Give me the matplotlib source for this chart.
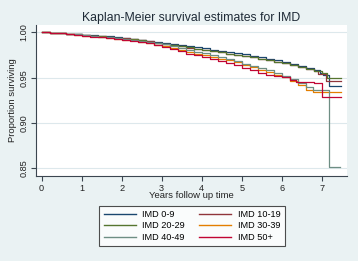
#!/usr/bin/env python3
# Kaplan-Meier survival estimates by IMD group (Stata s2color look)
import matplotlib
matplotlib.use("Agg")
import matplotlib.pyplot as plt

groups = ["IMD 0-9", "IMD 10-19", "IMD 20-29", "IMD 30-39", "IMD 40-49", "IMD 50+"]
colors = ["#1a476f", "#90353b", "#55752f", "#e37e00", "#6e8e84", "#c10534"]

# common follow-up grid (years) for the first six years
t_grid = [0.0, 0.2, 0.4, 0.6, 0.8, 1.0, 1.2, 1.4, 1.6, 1.8, 2.0, 2.2, 2.4, 2.6, 2.8,
          3.0, 3.2, 3.4, 3.6, 3.8, 4.0, 4.2, 4.4, 4.6, 4.8, 5.0, 5.2, 5.4, 5.6, 5.8, 6.0]

s_0_9 = [1.0, 0.9996, 0.9991, 0.9986, 0.998, 0.9974, 0.9967, 0.9961, 0.9954, 0.9946,
         0.9938, 0.993, 0.9918, 0.9907, 0.9895, 0.9885, 0.9873, 0.9858, 0.9845, 0.9834,
         0.9822, 0.981, 0.9797, 0.9785, 0.9772, 0.9759, 0.9743, 0.9726, 0.9709, 0.9692,
         0.9675]
tail_t_0_9 = [6.2, 6.4, 6.6, 6.8, 6.95, 7.04, 7.17, 7.48]
tail_s_0_9 = [0.9655, 0.9628, 0.9605, 0.9585, 0.9555, 0.953, 0.941, 0.941]

s_10_19 = [1.0, 0.9995, 0.999, 0.9984, 0.9978, 0.9971, 0.9964, 0.9957, 0.9949, 0.9941,
           0.9932, 0.9923, 0.9912, 0.99, 0.9887, 0.9873, 0.9859, 0.9845, 0.9831, 0.9818,
           0.9805, 0.9792, 0.9778, 0.9765, 0.9752, 0.9739, 0.9725, 0.971, 0.9694, 0.9678,
           0.9661]
tail_t_10_19 = [6.2, 6.4, 6.6, 6.8, 6.9, 7.1, 7.48]
tail_s_10_19 = [0.9642, 0.9615, 0.9594, 0.957, 0.9537, 0.9467, 0.9467]

s_20_29 = [1.0, 0.9996, 0.999, 0.9983, 0.9977, 0.997, 0.9963, 0.9955, 0.9948, 0.994,
           0.9931, 0.9921, 0.991, 0.9898, 0.9886, 0.9873, 0.986, 0.9847, 0.9834, 0.982,
           0.9807, 0.9794, 0.978, 0.9766, 0.9752, 0.9738, 0.9724, 0.9709, 0.9693, 0.9676,
           0.9659]
tail_t_20_29 = [6.2, 6.4, 6.6, 6.8, 7.0, 7.13, 7.48]
tail_s_20_29 = [0.964, 0.9614, 0.9592, 0.9572, 0.9555, 0.9493, 0.9493]

s_30_39 = [1.0, 0.9995, 0.9988, 0.998, 0.9972, 0.9964, 0.9955, 0.9947, 0.9938, 0.993,
           0.992, 0.991, 0.9898, 0.9882, 0.9864, 0.9845, 0.9825, 0.9803, 0.978, 0.9762,
           0.9745, 0.9728, 0.971, 0.969, 0.9668, 0.9643, 0.9615, 0.9588, 0.9558, 0.9532,
           0.9505]
tail_t_30_39 = [6.2, 6.4, 6.6, 6.79, 7.48]
tail_s_30_39 = [0.946, 0.9418, 0.9368, 0.934, 0.934]

s_40_49 = [1.0, 0.9996, 0.999, 0.9983, 0.9976, 0.9968, 0.996, 0.9952, 0.9944, 0.9936,
           0.9927, 0.9918, 0.9908, 0.9896, 0.9882, 0.9866, 0.9848, 0.9829, 0.9808, 0.9788,
           0.977, 0.9752, 0.9733, 0.971, 0.9684, 0.9655, 0.9624, 0.9605, 0.9585, 0.9555,
           0.9522]
tail_t_40_49 = [6.2, 6.4, 6.6, 6.79, 7.17, 7.45]
tail_s_40_49 = [0.948, 0.9438, 0.9392, 0.9365, 0.852, 0.852]

s_50 = [1.0, 0.9995, 0.9988, 0.9979, 0.997, 0.9961, 0.9952, 0.9943, 0.9933, 0.9923,
        0.9913, 0.9903, 0.9893, 0.9878, 0.9858, 0.9836, 0.9813, 0.979, 0.9765, 0.9745,
        0.9725, 0.9705, 0.9685, 0.9662, 0.9638, 0.961, 0.9582, 0.9555, 0.953, 0.9518,
        0.951]
tail_t_50 = [6.2, 6.35, 6.8, 7.0, 7.48]
tail_s_50 = [0.9478, 0.9456, 0.9445, 0.929, 0.929]

heads = [s_0_9, s_10_19, s_20_29, s_30_39, s_40_49, s_50]
tails_t = [tail_t_0_9, tail_t_10_19, tail_t_20_29, tail_t_30_39, tail_t_40_49, tail_t_50]
tails_s = [tail_s_0_9, tail_s_10_19, tail_s_20_29, tail_s_30_39, tail_s_40_49, tail_s_50]

xticks = [0, 1, 2, 3, 4, 5, 6, 7]
yticks = [0.85, 0.90, 0.95, 1.00]

BG = "#eaf2f3"
GRID = "#dde8ec"
AX = "#3c4650"

plt.rcParams["font.family"] = ["Liberation Sans", "DejaVu Sans"]
fig = plt.figure(figsize=(3.58, 2.61), dpi=100, facecolor=BG)
ax = fig.add_axes([36/358, 85/261, 311/358, 151/261])
ax.set_facecolor("white")

for ys in yticks:
    ax.axhline(ys, color=GRID, lw=0.8, zorder=0)

lines = []
for head, tt, ts, c, g in zip(heads, tails_t, tails_s, colors, groups):
    ln, = ax.step(t_grid + tt, head + ts, where="post", color=c, lw=0.9, label=g)
    lines.append(ln)

ax.set_xlim(-0.14, 7.63)
ax.set_ylim(0.8417, 1.0080)
ax.set_xticks(xticks)
ax.set_xticklabels([str(x) for x in xticks])
ax.set_yticks(yticks)
ax.set_yticklabels(["%.2f" % y for y in yticks], rotation=90, va="center")

for side in ["top", "right"]:
    ax.spines[side].set_visible(False)
for side in ["left", "bottom"]:
    ax.spines[side].set_color(AX)
    ax.spines[side].set_linewidth(0.8)
ax.tick_params(axis="both", direction="out", length=3.5, width=0.8, color=AX,
               labelsize=6.6, labelcolor="#222222", pad=2)

ax.set_xlabel("Years follow up time", fontsize=6.8, color="#222222", labelpad=-1)
ax.set_ylabel("Proportion surviving", fontsize=6.8, color="#222222", labelpad=2)
ax.set_title("Kaplan-Meier survival estimates for IMD", fontsize=8.8,
             color="#1e2a36", pad=3)

# Stata legend goes row-wise; matplotlib fills columns first
order = [0, 2, 4, 1, 3, 5]
leg = fig.legend([lines[i] for i in order], [groups[i] for i in order],
                 ncol=2, loc="center", bbox_to_anchor=(192/358, (261-226)/261),
                 fontsize=6.6, frameon=True, fancybox=False, handlelength=3.5,
                 handletextpad=0.75, columnspacing=1.5, labelspacing=0.3,
                 borderpad=0.45)
leg.get_frame().set_edgecolor("#222222")
leg.get_frame().set_linewidth(0.8)
for h in leg.legend_handles:
    h.set_linewidth(1.0)

fig.savefig("out.png", dpi=100, facecolor=BG)
